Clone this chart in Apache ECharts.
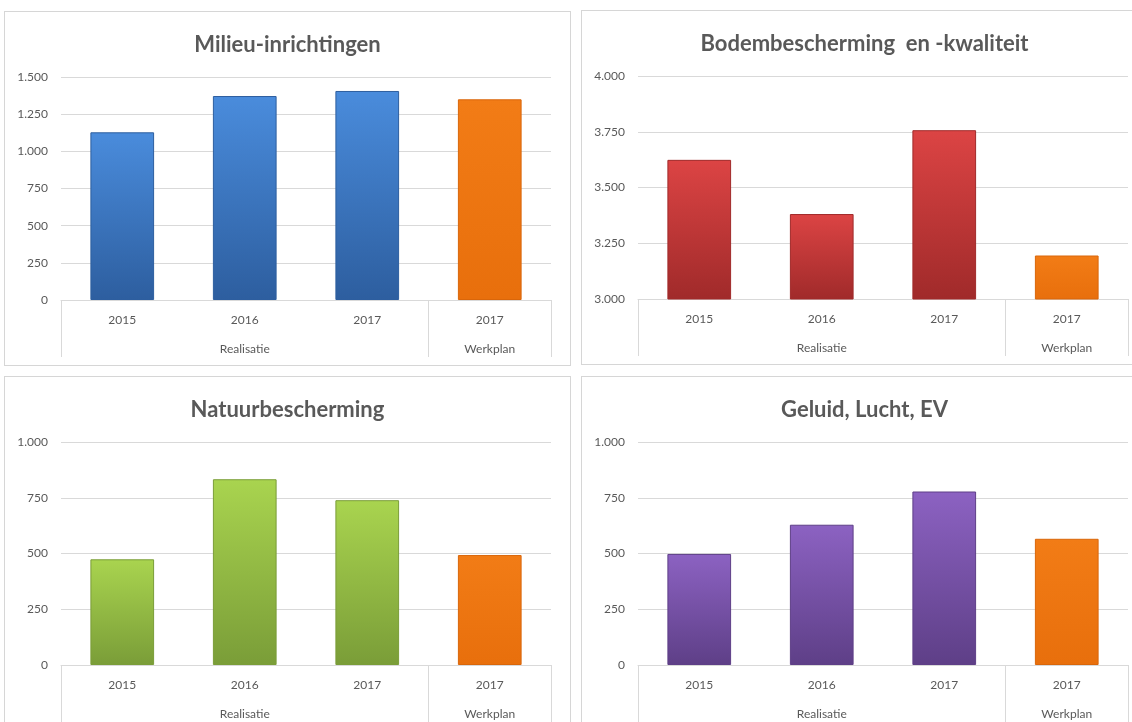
<!DOCTYPE html>
<html>
<head>
<meta charset="utf-8">
<script src="https://cdn.jsdelivr.net/npm/echarts@6/dist/echarts.min.js"></script>
<style>
  html, body {
    margin: 0;
    padding: 0;
    background: #fff;
    width: 1132px;
    height: 722px;
    overflow: hidden;
    position: relative;
  }
  .panel {
    position: absolute;
    width: 567px;
    height: 355px;
    box-sizing: border-box;
    border: 1px solid #d6d6d6;
    background: #fff;
  }
  .chart {
    width: 100%;
    height: 100%;
  }
</style>
</head>
<body>
  <!-- vier panelen, rechts lopen ze iets buiten beeld -->
  <div class="panel" style="left:4px; top:11px;"><div id="milieu" class="chart"></div></div>
  <div class="panel" style="left:581px; top:10px;"><div id="bodem" class="chart"></div></div>
  <div class="panel" style="left:4px; top:376px;"><div id="natuur" class="chart"></div></div>
  <div class="panel" style="left:581px; top:376px;"><div id="geluid" class="chart"></div></div>

<script>
// categorieen
const years = ['2015', '2016', '2017', '2017']
const groups = ['Realisatie', 'Realisatie', 'Realisatie', 'Werkplan']

// waarden per thema
const milieuValues = [1128, 1372, 1406, 1350]
const bodemValues = [3624, 3381, 3757, 3195]
const natuurValues = [474, 833, 739, 493]
const geluidValues = [498, 629, 778, 566]

// y-as bereik per thema: min, max, stap
const milieuTicks = [0, 1500, 250]
const bodemTicks = [3000, 4000, 250]
const natuurTicks = [0, 1000, 250]
const geluidTicks = [0, 1000, 250]

// kleuren (boven -> onder)
const blue = ['#4a8cdc', '#2d5e9f']
const red = ['#dc4444', '#a02a2a']
const green = ['#a9d44f', '#7a9d38']
const purple = ['#8c62c2', '#5e3f87']
const orange = ['#f27c16', '#e86f0c']

const textColor = '#595959'
const lineColor = '#d9d9d9'
const font = 'Lato, "Open Sans", sans-serif'

// 1500 -> 1.500
const formatNl = (v) => String(v).replace(/\B(?=(\d{3})+(?!\d))/g, '.')

const barColor = (c) => new echarts.graphic.LinearGradient(0, 0, 0, 1, [
  { offset: 0, color: c[0] },
  { offset: 1, color: c[1] }
])

// groepslabel alleen in het midden van elke groep
const groupMiddle = (idx) => {
  let start = idx
  while (start > 0 && groups[start - 1] === groups[idx]) start--
  let end = idx
  while (end < groups.length - 1 && groups[end + 1] === groups[idx]) end++
  return idx === Math.floor((start + end) / 2)
}

// scheidingslijn aan het begin van elke groep
const groupStart = (idx) => idx === 0 || groups[idx] !== groups[idx - 1]

const makeChart = (id, title, values, colors, ticks) => {
  const chart = echarts.init(document.getElementById(id), null, { renderer: 'canvas' })

  const data = values.map((v, i) => ({
    value: v,
    itemStyle: {
      color: groups[i] === 'Werkplan' ? barColor(orange) : barColor(colors),
      borderColor: groups[i] === 'Werkplan' ? '#d9660a' : colors[1],
      borderWidth: 1
    }
  }))

  chart.setOption({
    animation: false,
    backgroundColor: '#fff',
    title: {
      text: title,
      left: 'center',
      top: 17,
      textStyle: {
        fontFamily: font,
        fontSize: 22,
        fontWeight: 'bold',
        color: textColor
      }
    },
    grid: {
      left: 56,
      right: 19,
      top: 65,
      bottom: 65
    },
    xAxis: [
      {
        type: 'category',
        data: years,
        position: 'bottom',
        axisLine: { show: true, lineStyle: { color: lineColor, width: 1 } },
        axisTick: {
          show: true,
          length: 57,
          interval: groupStart,
          lineStyle: { color: lineColor, width: 1 }
        },
        axisLabel: {
          interval: 0,
          margin: 14,
          color: textColor,
          fontFamily: font,
          fontSize: 12
        },
        splitLine: { show: false }
      },
      {
        type: 'category',
        data: groups,
        position: 'bottom',
        axisLine: { show: false },
        axisTick: { show: false },
        axisLabel: {
          interval: groupMiddle,
          margin: 43,
          color: textColor,
          fontFamily: font,
          fontSize: 12
        },
        splitLine: { show: false }
      }
    ],
    yAxis: {
      type: 'value',
      min: ticks[0],
      max: ticks[1],
      interval: ticks[2],
      axisLine: { show: false },
      axisTick: { show: false },
      axisLabel: {
        margin: 13,
        color: textColor,
        fontFamily: font,
        fontSize: 12,
        formatter: formatNl
      },
      splitLine: { lineStyle: { color: lineColor, width: 1 } }
    },
    series: [{
      type: 'bar',
      xAxisIndex: 0,
      barWidth: '52%',
      data: data
    }]
  })
  return chart
}

makeChart('milieu', 'Milieu-inrichtingen', milieuValues, blue, milieuTicks)
makeChart('bodem', 'Bodembescherming  en -kwaliteit', bodemValues, red, bodemTicks)
makeChart('natuur', 'Natuurbescherming', natuurValues, green, natuurTicks)
makeChart('geluid', 'Geluid, Lucht, EV', geluidValues, purple, geluidTicks)
</script>
</body>
</html>
